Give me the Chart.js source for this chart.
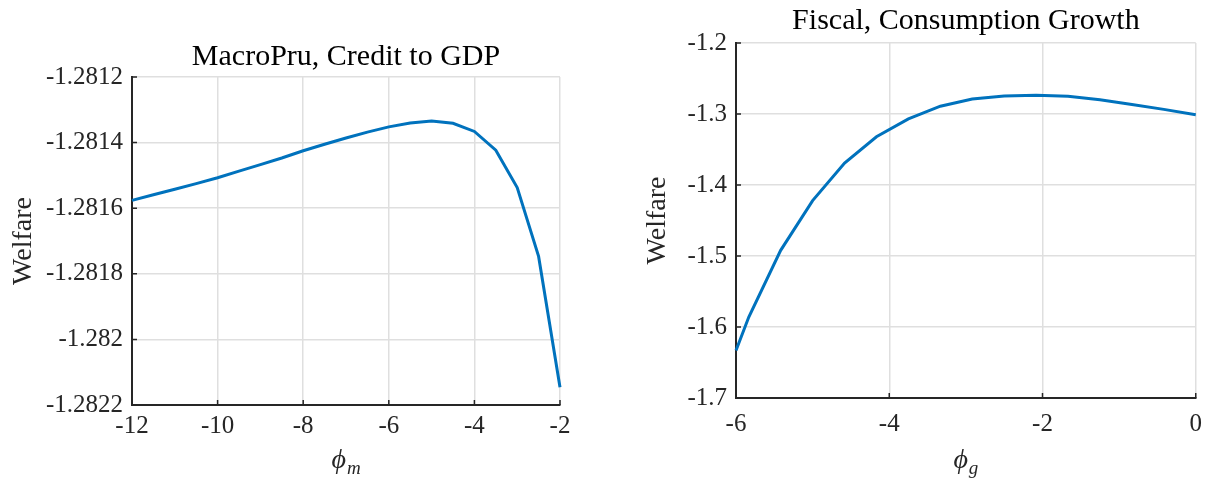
<!DOCTYPE html>
<html>
<head>
<meta charset="utf-8">
<script src="https://cdn.jsdelivr.net/npm/chart.js@4.4.1/dist/chart.umd.min.js"></script>
<style>
  html, body { margin: 0; padding: 0; background: #ffffff; }
  body { width: 1213px; height: 485px; position: relative; overflow: hidden; }
  canvas { position: absolute; top: 0; }
  #macro { left: 0; }
  #fiscal { left: 606px; }
</style>
</head>
<body>
<canvas id="macro" width="606" height="485"></canvas>
<canvas id="fiscal" width="607" height="485"></canvas>
<script>
// Welfare against the macroprudential response to credit-to-GDP (phi_m)
const macroPhi = [-12, -11.5, -11, -10.5, -10, -9.5, -9, -8.5, -8, -7.5, -7,
                  -6.5, -6, -5.5, -5, -4.5, -4, -3.5, -3, -2.5, -2];
const macroWelfare = [-1.281576, -1.281559, -1.281542, -1.281525, -1.281507,
                      -1.281487, -1.281467, -1.281447, -1.281425, -1.281405,
                      -1.281386, -1.281368, -1.281352, -1.281340, -1.281334,
                      -1.281341, -1.281366, -1.281423, -1.281537, -1.281747,
                      -1.282146];
const macroXTicks = [-12, -10, -8, -6, -4, -2];
const macroYTicks = [-1.2822, -1.282, -1.2818, -1.2816, -1.2814, -1.2812];
const macroYLabels = ['-1.2822', '-1.282', '-1.2818', '-1.2816', '-1.2814', '-1.2812'];

// Welfare against the fiscal response to consumption growth (phi_g)
const fiscalPhi = [-6, -5.833, -5.417, -5, -4.583, -4.167, -3.75, -3.333,
                   -2.917, -2.5, -2.083, -1.667, -1.25, -0.833, -0.417, 0];
const fiscalWelfare = [-1.633, -1.586, -1.492, -1.422, -1.369, -1.332, -1.307,
                       -1.289, -1.279, -1.2745, -1.2735, -1.275, -1.280,
                       -1.2865, -1.2935, -1.301];
const fiscalXTicks = [-6, -4, -2, 0];
const fiscalYTicks = [-1.7, -1.6, -1.5, -1.4, -1.3, -1.2];
const fiscalYLabels = ['-1.7', '-1.6', '-1.5', '-1.4', '-1.3', '-1.2'];

const SERIF = '"Liberation Serif", "Times New Roman", serif';
const AXIS_COLOR = '#262626';
const GRID_COLOR = '#dfdfdf';
const LINE_COLOR = '#0072bd';

// Panel title, inward tick marks on the left/bottom axes, and the phi axis label
function panelDecor(title, titleY, symbolSub) {
  return {
    id: 'panelDecor',
    afterDraw(chart) {
      const { ctx, chartArea: a, scales: { x, y } } = chart;
      const cx = (a.left + a.right) / 2;
      ctx.save();

      ctx.fillStyle = '#000000';
      ctx.font = '30px ' + SERIF;
      ctx.textAlign = 'center';
      ctx.textBaseline = 'middle';
      ctx.fillText(title, cx, titleY);

      ctx.strokeStyle = AXIS_COLOR;
      ctx.lineWidth = 1.5;
      ctx.beginPath();
      x.ticks.forEach(t => {
        const px = x.getPixelForValue(t.value);
        ctx.moveTo(px, a.bottom);
        ctx.lineTo(px, a.bottom - 5);
      });
      y.ticks.forEach(t => {
        const py = y.getPixelForValue(t.value);
        ctx.moveTo(a.left, py);
        ctx.lineTo(a.left + 5, py);
      });
      ctx.stroke();

      // phi with subscript, centred under the plot area
      const mainFont = 'italic 28px ' + SERIF;
      const subFont = 'italic 19px ' + SERIF;
      ctx.fillStyle = AXIS_COLOR;
      ctx.textBaseline = 'alphabetic';
      ctx.textAlign = 'left';
      ctx.font = mainFont;
      const wMain = ctx.measureText('\u03D5').width;
      ctx.font = subFont;
      const wSub = ctx.measureText(symbolSub).width;
      const x0 = cx - (wMain + wSub + 1) / 2;
      const base = chart.height - 17;
      ctx.font = mainFont;
      ctx.fillText('\u03D5', x0, base);
      ctx.font = subFont;
      ctx.fillText(symbolSub, x0 + wMain + 1, base + 6);
      ctx.restore();
    }
  };
}

function buildChart(canvasId, cfg) {
  const points = cfg.xs.map((v, i) => ({ x: v, y: cfg.ys[i] }));
  return new Chart(document.getElementById(canvasId), {
    type: 'line',
    data: {
      datasets: [{
        data: points,
        borderColor: LINE_COLOR,
        borderWidth: 3,
        pointRadius: 0,
        tension: 0,
        fill: false,
        clip: 6
      }]
    },
    options: {
      responsive: false,
      animation: false,
      layout: { padding: { left: 0, right: cfg.padRight, top: cfg.padTop, bottom: 0 } },
      plugins: {
        legend: { display: false },
        tooltip: { enabled: false },
        title: { display: false }
      },
      scales: {
        x: {
          type: 'linear',
          min: cfg.xTicks[0],
          max: cfg.xTicks[cfg.xTicks.length - 1],
          afterBuildTicks: s => { s.ticks = cfg.xTicks.map(v => ({ value: v })); },
          afterFit: s => { s.height = cfg.xHeight; },
          ticks: {
            color: AXIS_COLOR,
            font: { family: SERIF, size: 25 },
            padding: cfg.xTickPad,
            maxRotation: 0,
            autoSkip: false,
            callback: v => String(v)
          },
          grid: { color: GRID_COLOR, lineWidth: 1.5, drawTicks: false },
          border: { color: AXIS_COLOR, width: 2 }
        },
        y: {
          type: 'linear',
          min: cfg.yTicks[0],
          max: cfg.yTicks[cfg.yTicks.length - 1],
          afterBuildTicks: s => { s.ticks = cfg.yTicks.map(v => ({ value: v })); },
          afterFit: s => { s.width = cfg.yWidth; },
          ticks: {
            color: AXIS_COLOR,
            font: { family: SERIF, size: 25 },
            padding: 9,
            autoSkip: false,
            callback: (v, i) => cfg.yLabels[i]
          },
          title: {
            display: true,
            text: 'Welfare',
            color: AXIS_COLOR,
            font: { family: SERIF, size: 28, lineHeight: 1.2 },
            padding: { top: cfg.yTitlePad, bottom: 0 }
          },
          grid: { color: GRID_COLOR, lineWidth: 1.5, drawTicks: false },
          border: { color: AXIS_COLOR, width: 2 }
        }
      }
    },
    plugins: [panelDecor(cfg.title, cfg.titleY, cfg.sub)]
  });
}

buildChart('macro', {
  xs: macroPhi, ys: macroWelfare,
  xTicks: macroXTicks, yTicks: macroYTicks, yLabels: macroYLabels,
  title: 'MacroPru, Credit to GDP', titleY: 57, sub: 'm',
  padRight: 46, padTop: 77, yWidth: 132, xHeight: 80, xTickPad: 6,
  yTitlePad: 7
});

buildChart('fiscal', {
  xs: fiscalPhi, ys: fiscalWelfare,
  xTicks: fiscalXTicks, yTicks: fiscalYTicks, yLabels: fiscalYLabels,
  title: 'Fiscal, Consumption Growth', titleY: 21, sub: 'g',
  padRight: 15, padTop: 43, yWidth: 130, xHeight: 87, xTickPad: 11,
  yTitlePad: 35
});
</script>
</body>
</html>
